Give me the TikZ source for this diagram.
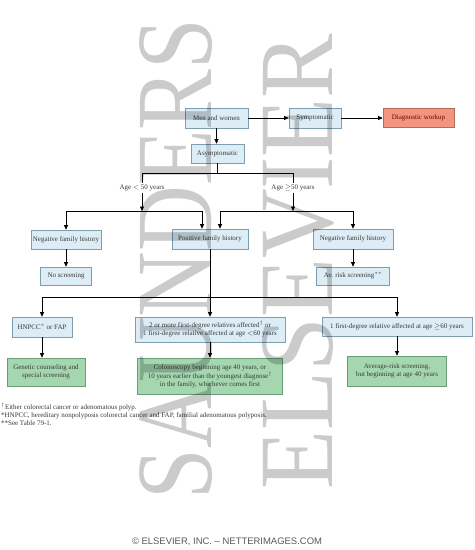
\documentclass[tikz,border=0pt]{standalone}
\usepackage{fontspec}
\setmainfont{Liberation Serif}
\newfontfamily\wmfont{Liberation Serif}
\newfontfamily\cpfont{Liberation Sans}
\usetikzlibrary{arrows.meta}
\definecolor{bfill}{HTML}{DCEDF6}
\definecolor{bdraw}{HTML}{7E9DAE}
\definecolor{gfill}{HTML}{A4D7B0}
\definecolor{gdraw}{HTML}{6A9C78}
\definecolor{sfill}{HTML}{F29580}
\definecolor{sdraw}{HTML}{B86A58}
\definecolor{wmgray}{HTML}{CBCBCB}
\definecolor{txt}{HTML}{3A3A3A}
\begin{document}
\begin{tikzpicture}[x=1bp,y=-1bp,
  box/.style={draw=bdraw, fill=bfill, line width=0.6pt, inner sep=0pt, align=center,
    font=\fontsize{7}{8}\selectfont, text=txt},
  gbox/.style={box, draw=gdraw, fill=gfill},
  sbox/.style={box, draw=sdraw, fill=sfill, text=red!45!black},
  conn/.style={line width=0.7pt, black},
  arr/.style={conn, -{Triangle[length=4.5pt,width=4pt]}},
  lbl/.style={fill=white, inner sep=1.5pt, font=\fontsize{7}{8}\selectfont, text=txt},
]
\fill[white] (0,0) rectangle (475,550);
\useasboundingbox (0,0) rectangle (475,550);

% boxes
\node[box, minimum width=63bp, minimum height=20bp] (men) at (216.5,118) {Men and women};
\node[box, minimum width=52bp, minimum height=20bp] (symp) at (315,118) {Symptomatic};
\node[sbox, minimum width=71bp, minimum height=19bp] (diag) at (418.5,118) {Diagnostic workup};
\node[box, minimum width=53bp, minimum height=19bp] (asym) at (217.5,153.5) {Asymptomatic};
\node[box, minimum width=70bp, minimum height=19bp] (negL) at (66,239.5) {Negative family history};
\node[box, minimum width=51bp, minimum height=18bp] (nos) at (66,276) {No screening};
\node[box, minimum width=76bp, minimum height=20bp] (pos) at (210,239) {Positive family history};
\node[box, minimum width=80bp, minimum height=20bp] (negR) at (353,239) {Negative family history};
\node[box, minimum width=73bp, minimum height=18bp] (avr) at (353,276) {Av. risk screening$^{**}$};
\node[box, minimum width=60bp, minimum height=20bp] (hnpcc) at (42,327) {HNPCC$^{*}$ or FAP};
\node[box, minimum width=150bp, minimum height=25bp] (two) at (210,329.5) {2 or more first-degree relatives affected$^{\dagger}$ or\\1 first-degree relative affected at age $<$60 years};
\node[box, minimum width=150bp, minimum height=19bp] (one) at (397,326.5) {1 first-degree relative affected at age $\geq$60 years};
\node[gbox, minimum width=78bp, minimum height=28bp] (gen) at (46,372) {Genetic counseling and\\special screening};
\node[gbox, minimum width=145bp, minimum height=36bp] (colo) at (210,376) {Colonoscopy beginning age 40 years, or\\10 years earlier than the youngest diagnose$^{\dagger}$\\in the family, whichever comes first};
\node[gbox, minimum width=99bp, minimum height=30bp] (avg) at (397,371) {Average-risk screening,\\but beginning at age 40 years};

% connectors
\draw[arr] (men.east) -- (symp.west);
\draw[arr] (symp.east) -- (symp.east -| diag.west);
\draw[arr] (men.south) -- (men.south |- asym.north);

\coordinate (aL) at (142,173);
\coordinate (aR) at (293,173);
\coordinate (bL) at (142,211);
\coordinate (bR) at (293,211);
\draw[conn] (asym.south) -- (asym.south |- aL);
\draw[conn] (aL) -- (aR);
\draw[arr] (aL) -- (bL);
\draw[arr] (aR) -- (bR);
\node[lbl] (ageL) at (142,188) {Age $<$ 50 years};
\node[lbl] (ageR) at (293,188) {Age $\geq$50 years};

\coordinate (hL1) at (66,211);
\coordinate (hL2) at (202,211);
\coordinate (hR1) at (220,211);
\coordinate (hR2) at (353,211);
\draw[conn] (hL1) -- (hL2);
\draw[conn] (hR1) -- (hR2);
\draw[arr] (hL1) -- (hL1 |- negL.north);
\draw[arr] (hL2) -- (hL2 |- pos.north);
\draw[arr] (hR1) -- (hR1 |- pos.north);
\draw[arr] (hR2) -- (hR2 |- negR.north);
\draw[arr] (negL.south) -- (negL.south |- nos.north);
\draw[arr] (negR.south) -- (negR.south |- avr.north);

\coordinate (c1) at (42,297);
\coordinate (c2) at (397,297);
\draw[conn] (pos.south) -- (pos.south |- c1);
\draw[conn] (c1) -- (c2);
\draw[arr] (c1) -- (hnpcc.north);
\draw[arr] (pos.south |- c1) -- (two.north);
\draw[arr] (c2) -- (one.north);
\draw[arr] (hnpcc.south) -- (hnpcc.south |- gen.north);
\draw[arr] (two.south) -- (colo.north);
\draw[arr] (one.south) -- (avg.north);

% footnotes
\node[anchor=north west, inner sep=0pt, align=left, font=\fontsize{7}{8}\selectfont, text=txt] (fn) at (1,402.5)
  {$^{\dagger}$Either colorectal cancer or adenomatous polyp.\\
   *HNPCC, hereditary nonpolyposis colorectal cancer and FAP, familial adenomatous polyposis.\\
   **See Table 79-1.};

\node[font=\cpfont\fontsize{9.5}{10}\selectfont, text=black!65] (cp) at (227,541.5) {© ELSEVIER, INC. – NETTERIMAGES.COM};

% watermark
\begin{scope}[blend mode=multiply]
\node[rotate=90, text=wmgray, inner sep=0pt] (wm1) at (176,259)
  {\scalebox{0.913}[1.09]{\wmfont\fontsize{100}{100}\selectfont SAUNDERS}};
\node[rotate=90, text=wmgray, inner sep=0pt] (wm2) at (298,261.5)
  {\scalebox{0.968}[1.06]{\wmfont\fontsize{100}{100}\selectfont ELSEVIER}};
\end{scope}
\end{tikzpicture}
\end{document}
